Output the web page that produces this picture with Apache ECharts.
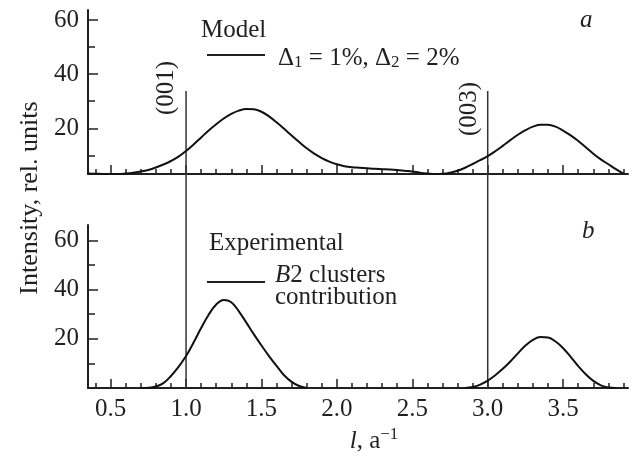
<!DOCTYPE html>
<html>
<head>
<meta charset="utf-8">
<script src="https://cdn.jsdelivr.net/npm/echarts@6/dist/echarts.min.js"></script>
<style>
  html, body { margin: 0; padding: 0; background: #fff; }
  #chart { width: 631px; height: 462px; }
</style>
</head>
<body>
<div id="chart"></div>
<script>
// l, a^-1 sampled every 0.05
const lValues = [0.35, 0.40, 0.45, 0.50, 0.55, 0.60, 0.65, 0.70, 0.75, 0.80,
  0.85, 0.90, 0.95, 1.00, 1.05, 1.10, 1.15, 1.20, 1.25, 1.30,
  1.35, 1.40, 1.45, 1.50, 1.55, 1.60, 1.65, 1.70, 1.75, 1.80,
  1.85, 1.90, 1.95, 2.00, 2.05, 2.10, 2.15, 2.20, 2.25, 2.30,
  2.35, 2.40, 2.45, 2.50, 2.55, 2.60, 2.65, 2.70, 2.75, 2.80,
  2.85, 2.90, 2.95, 3.00, 3.05, 3.10, 3.15, 3.20, 3.25, 3.30,
  3.35, 3.40, 3.45, 3.50, 3.55, 3.60, 3.65, 3.70, 3.75, 3.80,
  3.85, 3.90];

// panel a: model, Δ1 = 1%, Δ2 = 2%
const modelValues = [3.3, 3.2, 3.1, 3.1, 3.1, 3.3, 3.6, 4.0, 4.6, 5.5,
  6.6, 7.9, 9.5, 11.6, 14.0, 16.6, 19.2, 21.5, 23.6, 25.3,
  26.5, 27.1, 27.0, 26.1, 24.4, 22.2, 19.8, 17.3, 14.9, 12.6,
  10.6, 9.0, 7.7, 6.7, 6.0, 5.6, 5.4, 5.2, 5.0, 4.9,
  4.8, 4.6, 4.3, 4.0, 3.6, 3.3, 3.1, 3.2, 3.6, 4.3,
  5.4, 6.8, 8.2, 9.7, 11.5, 13.5, 15.6, 17.6, 19.3, 20.6,
  21.3, 21.3, 20.6, 19.1, 17.4, 15.3, 13.0, 10.6, 8.5, 6.7,
  4.9, 3.2];

// panel b: experimental, B2 clusters contribution
const b2Values = [null, null, null, null, null, null, null, 0, 0.1, 0.6,
  2.0, 4.9, 8.6, 13.0, 18.5, 24.4, 29.8, 34.0, 35.8, 34.9,
  31.2, 26.6, 21.8, 17.3, 13.0, 9.0, 5.2, 2.5, 0.8, 0,
  null, null, null, null, null, null, null, null, null, null,
  null, null, null, null, null, null, null, null, null, null,
  0, 0.4, 1.4, 3.0, 5.2, 7.8, 10.8, 14.1, 17.3, 19.6,
  20.7, 20.5, 18.9, 16.2, 12.7, 8.9, 5.6, 2.9, 1.1, 0.2,
  0, null];

// reflections (001) and (003)
const reflections = [1.0, 3.0];
const reflectionNames = ['(001)', '(003)'];

const xMajorTicks = [0.5, 1.0, 1.5, 2.0, 2.5, 3.0, 3.5];
const xMinorTicks = [];
for (let i = 4; i <= 39; i++) xMinorTicks.push(i / 10);
const yMajorTicks = [20, 40, 60];
const yMinorTicks = [10, 30, 50];

const ink = '#231f20';
const font = 'Liberation Serif';

const model = lValues.map((l, i) => [l, modelValues[i]]);
const b2 = lValues.map((l, i) => [l, b2Values[i]]);

const xRange = { min: 0.35, max: 3.93 };

function xMajor(grid, labels) {
  return {
    type: 'value', gridIndex: grid, position: 'bottom', ...xRange,
    axisLine: { show: true, onZero: false, lineStyle: { color: ink, width: 2 } },
    axisTick: { show: true, inside: true, length: 9, customValues: xMajorTicks,
      lineStyle: { color: ink, width: 1.5 } },
    axisLabel: { show: labels, customValues: xMajorTicks, margin: 9,
      fontFamily: font, fontSize: 25, color: ink,
      formatter: v => v.toFixed(1) },
    splitLine: { show: false }
  };
}
function xMinor(grid) {
  return {
    type: 'value', gridIndex: grid, position: 'bottom', ...xRange,
    axisLine: { show: false, onZero: false },
    axisTick: { show: true, inside: true, length: 5, customValues: xMinorTicks,
      lineStyle: { color: ink, width: 1.5 } },
    axisLabel: { show: false },
    splitLine: { show: false }
  };
}
function yMajor(grid, min, max) {
  return {
    type: 'value', gridIndex: grid, position: 'left', min: min, max: max,
    axisLine: { show: true, onZero: false, lineStyle: { color: ink, width: 2 } },
    axisTick: { show: true, inside: true, length: 10, customValues: yMajorTicks,
      lineStyle: { color: ink, width: 1.5 } },
    axisLabel: { customValues: yMajorTicks, margin: 9,
      fontFamily: font, fontSize: 25, color: ink },
    splitLine: { show: false }
  };
}
function yMinor(grid, min, max) {
  return {
    type: 'value', gridIndex: grid, position: 'left', min: min, max: max,
    axisLine: { show: false, onZero: false },
    axisTick: { show: true, inside: true, length: 7, customValues: yMinorTicks,
      lineStyle: { color: ink, width: 1.5 } },
    axisLabel: { show: false },
    splitLine: { show: false }
  };
}

const label = (t, x, y, extra, rotation) => ({
  type: 'text', x: x, y: y, silent: true, rotation: rotation || 0,
  style: Object.assign({ text: t, font: '25px "Liberation Serif"', fill: ink,
    textAlign: 'left', textVerticalAlign: 'middle' }, extra || {})
});
const up = Math.PI / 2;

const option = {
  animation: false,
  backgroundColor: '#fff',
  grid: [
    { left: 88, top: 10, width: 540, height: 164 },
    { left: 88, top: 225, width: 540, height: 163 },
    { left: 88, top: 91, width: 540, height: 297 }
  ],
  xAxis: [
    xMajor(0, false), xMinor(0),
    xMajor(1, true), xMinor(1),
    { type: 'value', gridIndex: 2, ...xRange, show: false }
  ],
  yAxis: [
    yMajor(0, 3.1, 63.7), yMinor(0, 3.1, 63.7),
    yMajor(1, 0, 66.3), yMinor(1, 0, 66.3),
    { type: 'value', gridIndex: 2, min: 0, max: 1, show: false }
  ],
  series: [
    {
      name: 'Model', type: 'line', xAxisIndex: 0, yAxisIndex: 0,
      data: model, showSymbol: false, smooth: 0.4, z: 3,
      lineStyle: { color: '#111', width: 2 }
    },
    {
      name: 'B2 clusters contribution', type: 'line', xAxisIndex: 2, yAxisIndex: 2,
      data: b2, showSymbol: false, smooth: 0.4, connectNulls: false, z: 3,
      lineStyle: { color: '#111', width: 2 }
    },
    ...reflections.map((l, i) => ({
      name: reflectionNames[i], type: 'line', xAxisIndex: 4, yAxisIndex: 4,
      data: [[l, 0], [l, 1]], showSymbol: false, z: 2,
      lineStyle: { color: '#333', width: 1.5 }
    }))
  ],
  graphic: [
    label('Model', 201, 30),
    { type: 'line', silent: true, shape: { x1: 207, y1: 55, x2: 265, y2: 55 },
      style: { stroke: ink, lineWidth: 2 } },
    { type: 'text', x: 278, y: 58, silent: true,
      style: { text: 'Δ{s|1} = 1%, Δ{s|2} = 2%', font: '25px "Liberation Serif"', fill: ink,
        textAlign: 'left', textVerticalAlign: 'middle',
        rich: { s: { fontFamily: font, fontSize: 17, fill: ink, padding: [10, 0, 0, 0] } } } },
    label('a', 580, 20, { font: 'italic 25px "Liberation Serif"' }),
    label('b', 582, 231, { font: 'italic 25px "Liberation Serif"' }),
    label('Experimental', 209, 243),
    { type: 'line', silent: true, shape: { x1: 207, y1: 282, x2: 265, y2: 282 },
      style: { stroke: ink, lineWidth: 2 } },
    { type: 'text', x: 275, y: 275, silent: true,
      style: { text: '{i|B}2 clusters', font: '25px "Liberation Serif"', fill: ink,
        textAlign: 'left', textVerticalAlign: 'middle',
        rich: { i: { fontFamily: font, fontStyle: 'italic', fontSize: 25, fill: ink } } } },
    label('contribution', 275, 297),
    label('(001)', 166, 88, { textAlign: 'center' }, up),
    label('(003)', 469, 109, { textAlign: 'center' }, up),
    label('Intensity, rel. units', 30, 198, { textAlign: 'center', font: '26px "Liberation Serif"' }, up),
    { type: 'text', x: 374, y: 441, silent: true,
      style: { text: '{i|l}, a{s|−1}', font: '25px "Liberation Serif"', fill: ink,
        textAlign: 'center', textVerticalAlign: 'middle',
        rich: {
          i: { fontFamily: font, fontStyle: 'italic', fontSize: 25, fill: ink },
          s: { fontFamily: font, fontSize: 17, fill: ink, padding: [0, 0, 12, 0] }
        } } }
  ]
};

const chart = echarts.init(document.getElementById('chart'));
chart.setOption(option);
</script>
</body>
</html>
